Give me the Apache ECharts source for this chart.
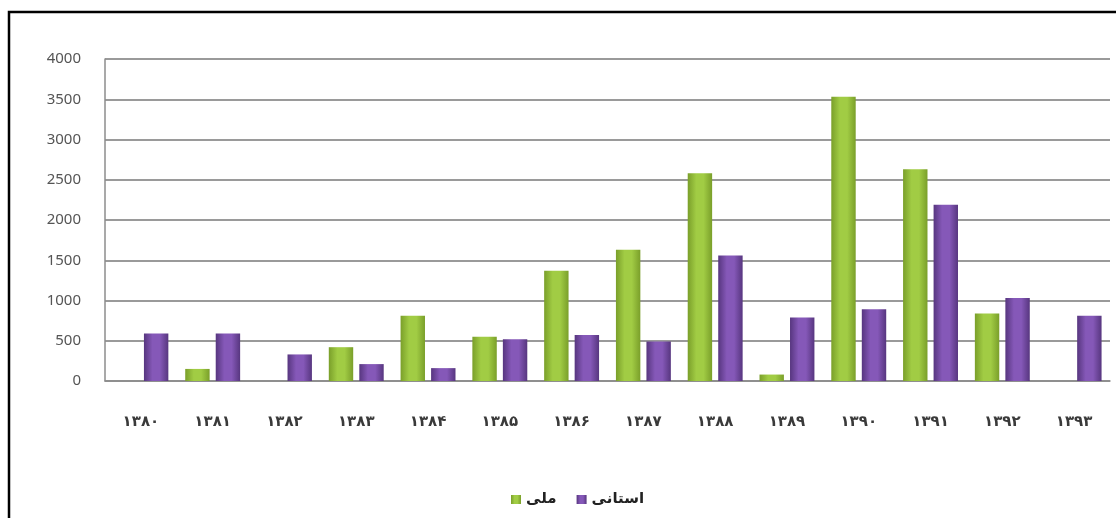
<!DOCTYPE html>
<html>
<head>
<meta charset="utf-8">
<script src="https://cdn.jsdelivr.net/npm/echarts@6/dist/echarts.min.js"></script>
<style>
html,body{margin:0;padding:0;background:#fff;}
#c{width:1116px;height:518px;}
</style>
</head>
<body>
<div id="c"></div>
<script>
const categories = ['۱۳۸۰','۱۳۸۱','۱۳۸۲','۱۳۸۳','۱۳۸۴','۱۳۸۵','۱۳۸۶','۱۳۸۷','۱۳۸۸','۱۳۸۹','۱۳۹۰','۱۳۹۱','۱۳۹۲','۱۳۹۳'];
const seriesNames = ['ملی','استانی'];
const meliValues = [null,150,null,420,810,550,1370,1630,2580,80,3530,2630,840,null];
const ostaniValues = [590,590,330,210,160,520,570,490,1560,790,890,2190,1030,810];
const yTicks = [0,500,1000,1500,2000,2500,3000,3500,4000];

function grad(edge, mid){
  return new echarts.graphic.LinearGradient(0,0,1,0,[
    {offset:0,color:edge},{offset:0.35,color:mid},{offset:0.65,color:mid},{offset:1,color:edge}
  ]);
}
const chart = echarts.init(document.getElementById('c'));
chart.setOption({
  animation:false,
  backgroundColor:'#fff',
  graphic:[{type:'rect',shape:{x:9,y:12,width:1300,height:700},style:{fill:'none',stroke:'#000',lineWidth:2.5},silent:true}],
  grid:{left:105,right:6,top:59,bottom:137},
  legend:{
    left:506,top:487,itemWidth:10,itemHeight:9,itemGap:20,icon:'rect',
    textStyle:{fontFamily:'DejaVu Sans',fontWeight:'bold',fontSize:15,color:'#222'},
    data:seriesNames
  },
  xAxis:{
    type:'category',data:categories,
    axisLine:{lineStyle:{color:'#8c8c8c',width:1.5}},
    axisTick:{show:false},
    axisLabel:{fontFamily:'DejaVu Sans',fontWeight:'bold',fontSize:15,color:'#3a3a3a',margin:34}
  },
  yAxis:{
    type:'value',min:yTicks[0],max:yTicks[yTicks.length-1],interval:500,
    axisLine:{show:true,lineStyle:{color:'#8c8c8c',width:1.5}},
    axisTick:{show:false},
    axisLabel:{fontFamily:'Noto Sans',fontSize:15,color:'#555',margin:24,formatter:function(v){return String(v);}},
    splitLine:{lineStyle:{color:'#9a9a9a',width:1.8}}
  },
  series:[
    {name:seriesNames[0],type:'bar',data:meliValues,barWidth:'34%',barGap:'25%',
     itemStyle:{color:grad('#7a9f2a','#a1cc44')}},
    {name:seriesNames[1],type:'bar',data:ostaniValues,barWidth:'34%',barGap:'25%',
     itemStyle:{color:grad('#57367f','#8558b8')}}
  ]
});
</script>
</body>
</html>
